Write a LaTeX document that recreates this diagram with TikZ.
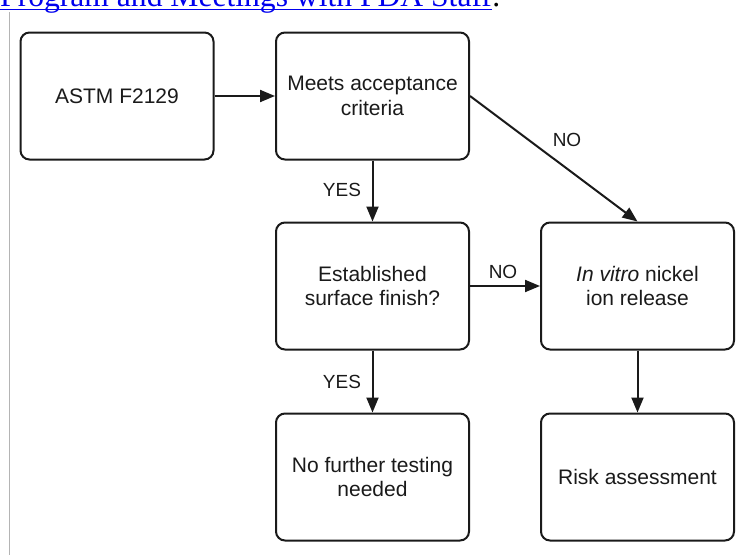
\documentclass[tikz,border=0pt]{standalone}
\usepackage{fontspec}
\setmainfont{Liberation Sans}
\newfontfamily\linkfont{Liberation Serif}
\usepackage{xcolor}
\usetikzlibrary{arrows.meta}
\definecolor{ink}{HTML}{1A1A1A}
\definecolor{linkblue}{HTML}{0000EE}
\definecolor{rulegray}{HTML}{B4B4B4}
\tikzset{
  box/.style={draw=ink, line width=2pt, rounded corners=9pt, align=center,
    minimum width=193pt, minimum height=127pt, inner sep=2pt,
    font=\fontsize{21}{24.5}\selectfont, text=ink},
  arr/.style={draw=ink, line width=2pt, -{Triangle[length=15pt,width=12pt]}},
  lbl/.style={text=ink, font=\fontsize{19}{22}\selectfont, inner sep=0pt}
}

\begin{document}
\begin{tikzpicture}[x=1pt,y=-1pt]
  \useasboundingbox (0,0) rectangle (744,555);
  \begin{scope}
    \clip (0,0) rectangle (744,555);
    % cut-off link line above the figure
    \node[inner sep=0pt, anchor=base west, text=linkblue,
      font=\linkfont\fontsize{31.6}{36}\selectfont] (link) at (0,6.5)
      {Program and Meetings with FDA Staff};
    \node[inner sep=0pt, anchor=base west, text=black,
      font=\linkfont\fontsize{31.6}{36}\selectfont] (stop) at (link.base east) {.};
    \draw[linkblue, line width=1.8pt] ([yshift=-3pt]link.base west) -- ([yshift=-3pt]link.base east);
  \end{scope}
  \draw[rulegray, line width=1.4pt] (9.5,12) -- (9.5,555);

  \node[box] (astm) at (117,96) {ASTM F2129};
  \node[box] (meets) at (372.5,96) {Meets acceptance\\criteria};
  \node[box] (finish) at (372.5,286) {Established\\surface finish?};
  \node[box] (invitro) at (637.5,286) {\textit{In vitro} nickel\\ion release};
  \node[box] (none) at (372.5,477) {No further testing\\needed};
  \node[box] (risk) at (637.5,477) {Risk assessment};

  \draw[arr] (astm.east) -- (meets.west);
  \draw[arr] (meets.south) -- (finish.north);
  \draw[arr] (meets.east) -- (invitro.north);
  \draw[arr] (finish.east) -- (invitro.west);
  \draw[arr] (finish.south) -- (none.north);
  \draw[arr] (invitro.south) -- (risk.north);

  \node[lbl] (yes1) at (342,190) {YES};
  \node[lbl] (no1) at (567,140) {NO};
  \node[lbl] (no2) at (503,272) {NO};
  \node[lbl] (yes2) at (342,382) {YES};
\end{tikzpicture}
\end{document}
